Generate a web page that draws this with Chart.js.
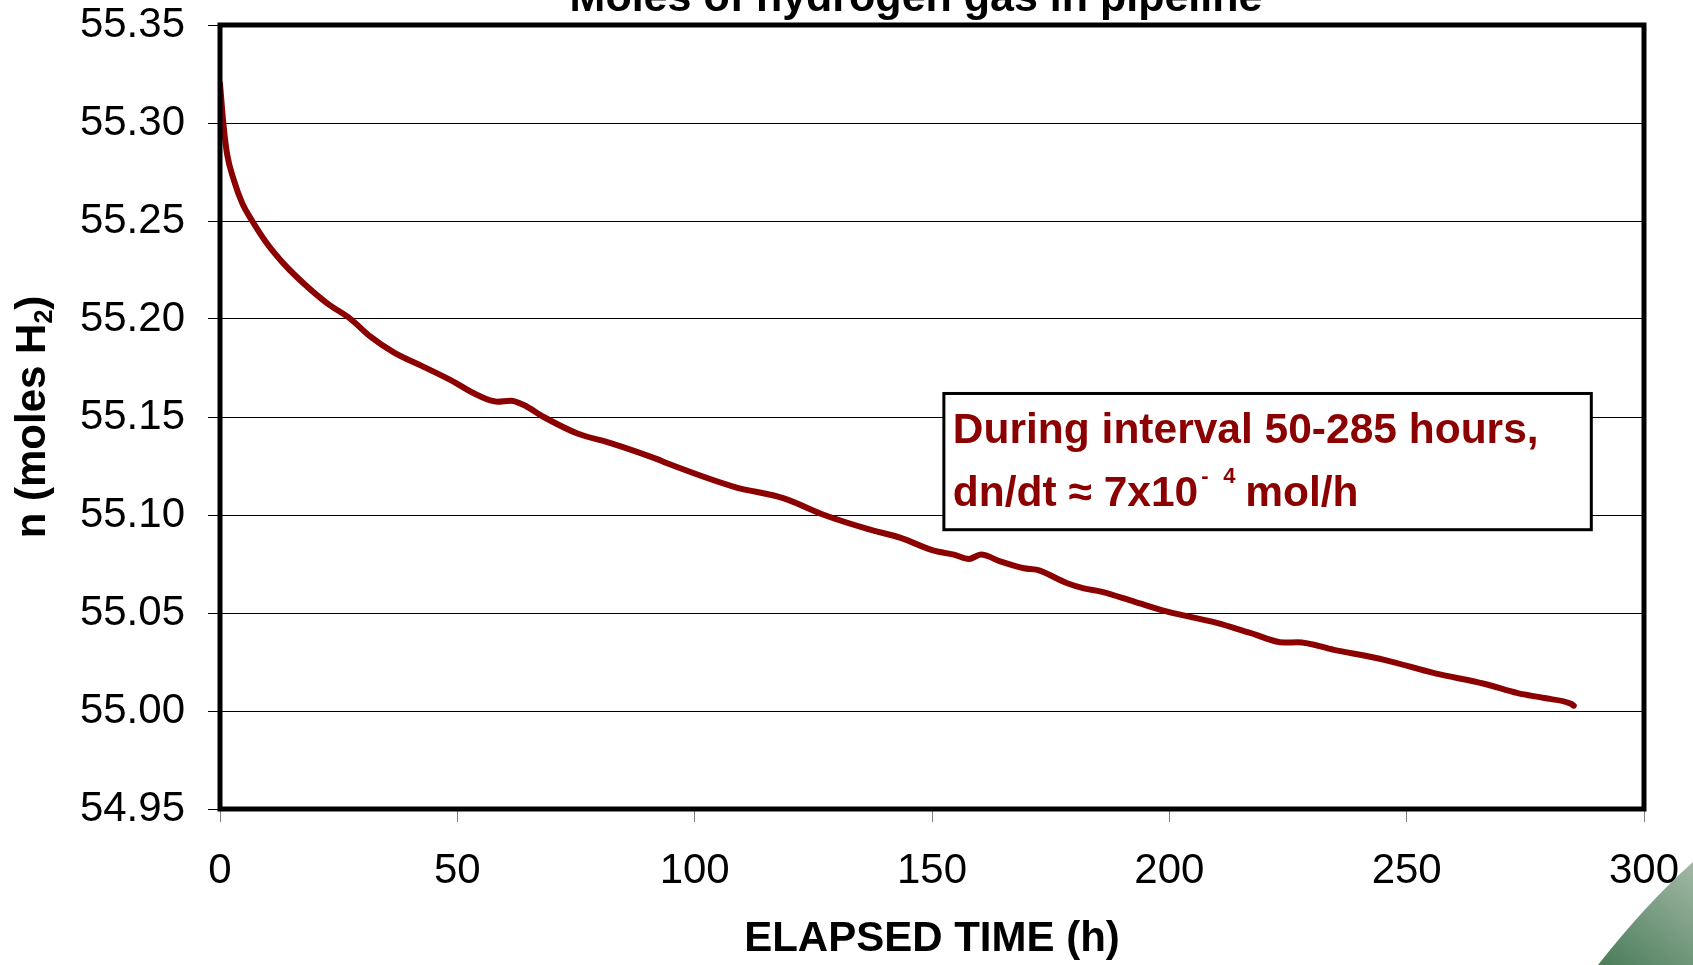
<!DOCTYPE html>
<html>
<head>
<meta charset="utf-8">
<title>Moles of hydrogen gas in pipeline</title>
<script src="https://cdn.jsdelivr.net/npm/chart.js@4.4.1/dist/chart.umd.min.js"></script>
<style>
  html, body { margin: 0; padding: 0; background: #fff; }
</style>
</head>
<body>
<canvas id="molesChart" width="1693" height="965"></canvas>
<script>
// Ma'lumotlar (rasmdan o'qilgan qiymatlar)
const elapsedHours = [0, 0.7, 1.5, 2.9, 4.7, 6.8, 9.9, 13.5, 17.7, 22.6, 27.5, 31.7, 36.6, 42.9, 48.6,
  54.2, 58.4, 61.2, 64.0, 68.2, 75.3, 82.3, 92.1, 94.2, 108.3, 118.8, 127.3, 136.4, 143.4, 150.4,
  154.6, 157.8, 160.3, 164.5, 169.4, 172.2, 178.5, 182.0, 185.6, 192.6, 199.6, 210.2, 217.2, 224.2,
  227.0, 234.7, 245.3, 255.8, 266.3, 273.4, 279.0, 284.6, 285.2];
const molesH2 = [55.320, 55.300, 55.284, 55.271, 55.259, 55.250, 55.2385, 55.228, 55.218, 55.208, 55.200,
  55.191, 55.183, 55.1756, 55.1688, 55.1612, 55.1578, 55.1583, 55.1561, 55.150, 55.1416, 55.1367, 55.1285,
  55.1264, 55.1144, 55.1085, 55.100, 55.0929, 55.0883, 55.0818, 55.0798, 55.0776, 55.0798, 55.0762,
  55.0728, 55.0720, 55.0652, 55.0626, 55.0609, 55.0558, 55.0507, 55.0448, 55.0397, 55.0349, 55.0351,
  55.0312, 55.0261, 55.0193, 55.0139, 55.0091, 55.0066, 55.0037, 55.0027];
const xTicks = [0, 50, 100, 150, 200, 250, 300];
const yTicks = [54.95, 55.00, 55.05, 55.10, 55.15, 55.20, 55.25, 55.30, 55.35];

const FONT = '"Liberation Sans", Arial, sans-serif';
const RED = '#8b0000';

// Ramka va izohlar
const bezakPlugin = {
  id: 'bezak',
  afterDatasetsDraw(chart) {
    const {ctx, chartArea: a} = chart;
    ctx.save();
    ctx.strokeStyle = '#000';
    ctx.lineWidth = 5;
    ctx.strokeRect(a.left, a.top, a.right - a.left, a.bottom - a.top);
    ctx.restore();
  },
  afterDraw(chart) {
    const {ctx} = chart;
    const x = chart.scales.x, y = chart.scales.y;
    ctx.save();

    // sarlavha (yuqoridan kesilgan)
    ctx.fillStyle = '#000';
    ctx.font = 'bold 43px ' + FONT;
    ctx.textAlign = 'center';
    ctx.textBaseline = 'alphabetic';
    ctx.fillText('Moles of hydrogen gas in pipeline', 916, 11);

    // Y o'qi nomi: n (moles H2)
    ctx.translate(45, 417);
    ctx.rotate(-Math.PI / 2);
    ctx.textAlign = 'left';
    const big = 'bold 42px ' + FONT, small = 'bold 25px ' + FONT;
    ctx.font = big;
    const w1 = ctx.measureText('n (moles H').width;
    const w3 = ctx.measureText(')').width;
    ctx.font = small;
    const w2 = ctx.measureText('2').width;
    let sx = -(w1 + w2 + w3) / 2;
    ctx.font = big;
    ctx.fillText('n (moles H', sx, 0);
    ctx.font = small;
    ctx.fillText('2', sx + w1, 7);
    ctx.font = big;
    ctx.fillText(')', sx + w1 + w2, 0);
    ctx.setTransform(1, 0, 0, 1, 0, 0);

    // izoh qutisi
    const bl = x.getPixelForValue(152.5), br = x.getPixelForValue(288.9);
    const bt = y.getPixelForValue(55.1620), bb = y.getPixelForValue(55.0925);
    ctx.fillStyle = '#fff';
    ctx.fillRect(bl, bt, br - bl, bb - bt);
    ctx.strokeStyle = '#000';
    ctx.lineWidth = 3;
    ctx.strokeRect(bl, bt, br - bl, bb - bt);

    ctx.fillStyle = RED;
    ctx.textAlign = 'left';
    ctx.font = 'bold 42.5px ' + FONT;
    const tx = bl + 9;
    ctx.fillText('During interval 50-285 hours,', tx, bt + 50);
    const l2 = bt + 113;
    const m = 'dn/dt \u2248 7x10';
    ctx.fillText(m, tx, l2);
    let px = tx + ctx.measureText(m).width;
    ctx.font = 'bold 22px ' + FONT;
    ctx.fillText('-', px + 3, l2 - 23);
    ctx.fillText('4', px + 25, l2 - 23);
    ctx.font = 'bold 42.5px ' + FONT;
    ctx.fillText('mol/h', px + 47, l2);

    // burchakdagi yashil logotip bo'lagi
    const g = ctx.createLinearGradient(1693, 860, 1610, 965);
    g.addColorStop(0, '#a3b9a6');
    g.addColorStop(1, '#4e7f5d');
    ctx.fillStyle = g;
    ctx.beginPath();
    ctx.moveTo(1693, 862);
    ctx.quadraticCurveTo(1645, 905, 1598, 965);
    ctx.lineTo(1693, 965);
    ctx.closePath();
    ctx.fill();
    ctx.restore();
  }
};

const ctx = document.getElementById('molesChart').getContext('2d');
new Chart(ctx, {
  type: 'line',
  data: {
    datasets: [{
      label: 'n (moles H2)',
      data: elapsedHours.map((t, i) => ({x: t, y: molesH2[i]})),
      borderColor: RED,
      borderWidth: 6,
      borderCapStyle: 'round',
      borderJoinStyle: 'round',
      cubicInterpolationMode: 'monotone',
      pointRadius: 0,
      fill: false
    }]
  },
  options: {
    responsive: false,
    animation: false,
    layout: { padding: { top: 25, right: 49, left: 0, bottom: 0 } },
    plugins: {
      legend: { display: false },
      title: { display: false },
      tooltip: { enabled: false }
    },
    scales: {
      x: {
        type: 'linear',
        min: 0,
        max: 300,
        afterBuildTicks: s => { s.ticks = xTicks.map(v => ({value: v})); },
        afterFit: s => { s.height = 156; s.paddingLeft = 0; s.paddingRight = 0; },
        grid: { drawOnChartArea: false, tickLength: 13, color: '#808080', lineWidth: 1 },
        border: { display: false },
        ticks: { color: '#000', padding: 24, maxRotation: 0, font: { family: FONT, size: 42 } },
        title: {
          display: true,
          text: 'ELAPSED TIME (h)',
          color: '#000',
          padding: { top: 0, bottom: 0 },
          font: { family: FONT, size: 42, weight: 'bold' }
        }
      },
      y: {
        type: 'linear',
        min: 54.95,
        max: 55.35,
        afterBuildTicks: s => { s.ticks = yTicks.map(v => ({value: v})); },
        afterFit: s => { s.width = 220; s.paddingTop = 0; s.paddingBottom = 0; },
        grid: { color: '#000', lineWidth: 1, tickLength: 12 },
        border: { display: false },
        ticks: {
          color: '#000',
          padding: 23,
          font: { family: FONT, size: 42, lineHeight: 1 },
          callback: v => Number(v).toFixed(2)
        }
      }
    }
  },
  plugins: [bezakPlugin]
});
</script>
</body>
</html>
